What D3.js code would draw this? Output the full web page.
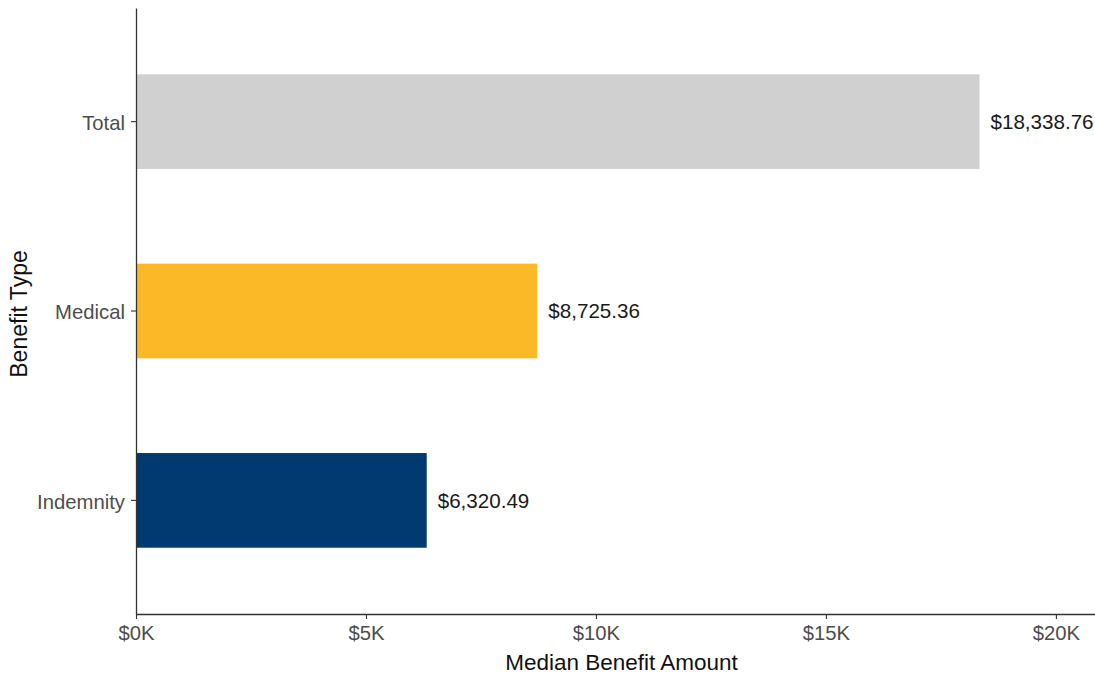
<!DOCTYPE html>
<html>
<head>
<meta charset="utf-8">
<script src="https://cdn.jsdelivr.net/npm/d3@7"></script>
<style>
  html, body { margin: 0; padding: 0; background: #ffffff; }
  svg { display: block; font-family: "Liberation Sans", Arial, sans-serif; }
</style>
</head>
<body>
<svg id="chart" width="1095" height="675"></svg>
<script>
// Median benefit amounts by benefit type
const categories = ["Total", "Medical", "Indemnity"];
const values = [18338.76, 8725.36, 6320.49];
const barColors = ["#d1d0d1", "#fbb927", "#003a70"];
const xTicks = [0, 5000, 10000, 15000, 20000];
const xTickLabels = ["$0K", "$5K", "$10K", "$15K", "$20K"];

const svg = d3.select("#chart");
const panelLeft = 136, panelRight = 1095, panelTop = 8, panelBottom = 614;

const x = d3.scaleLinear().domain([0, 20850]).range([panelLeft, panelRight]);
const y = d3.scaleBand().domain(categories).range([panelTop, panelBottom])
  .paddingInner(0.5).paddingOuter(0.35);

const fmt = d3.format("$,.2f");

// Bars
svg.append("g").selectAll("rect")
  .data(categories)
  .join("rect")
  .attr("x", x(0))
  .attr("y", d => y(d))
  .attr("width", (d, i) => x(values[i]) - x(0))
  .attr("height", y.bandwidth())
  .attr("fill", (d, i) => barColors[i]);

// Value labels
svg.append("g").selectAll("text")
  .data(categories)
  .join("text")
  .attr("x", (d, i) => x(values[i]) + 11)
  .attr("y", d => y(d) + y.bandwidth() / 2)
  .attr("dy", "0.35em")
  .attr("font-size", 20.6)
  .attr("fill", "#1a1a1a")
  .text((d, i) => fmt(values[i]));

// X axis
const xAxis = svg.append("g")
  .attr("transform", `translate(0,${panelBottom})`)
  .call(d3.axisBottom(x).tickValues(xTicks)
    .tickFormat((d, i) => xTickLabels[i]).tickSize(5).tickSizeOuter(0).tickPadding(7));
xAxis.select(".domain").attr("stroke", "#333").attr("stroke-width", 1.3);
xAxis.selectAll(".tick line").attr("stroke", "#333").attr("stroke-width", 1.1);
xAxis.selectAll(".tick text").attr("font-size", 20.3).attr("fill", "#4d4d4d")
  .attr("font-family", "Liberation Sans, Arial, sans-serif");

// Y axis
const yAxis = svg.append("g")
  .attr("transform", `translate(${panelLeft},0)`)
  .call(d3.axisLeft(y).tickSize(5).tickSizeOuter(0).tickPadding(6));
yAxis.select(".domain").attr("stroke", "#333").attr("stroke-width", 1.3);
yAxis.selectAll(".tick line").attr("stroke", "#333").attr("stroke-width", 1.1);
yAxis.selectAll(".tick text").attr("font-size", 20.3).attr("fill", "#4d4d4d")
  .attr("dy", "0.4em")
  .attr("font-family", "Liberation Sans, Arial, sans-serif");

// Axis titles
svg.append("text")
  .attr("x", (panelLeft + panelRight) / 2 + 6)
  .attr("y", 670)
  .attr("text-anchor", "middle")
  .attr("font-size", 22.5)
  .attr("fill", "#111")
  .text("Median Benefit Amount");

svg.append("text")
  .attr("transform", `translate(27,${(panelTop + panelBottom) / 2 + 3}) rotate(-90)`)
  .attr("text-anchor", "middle")
  .attr("font-size", 23)
  .attr("fill", "#111")
  .text("Benefit Type");
</script>
</body>
</html>
